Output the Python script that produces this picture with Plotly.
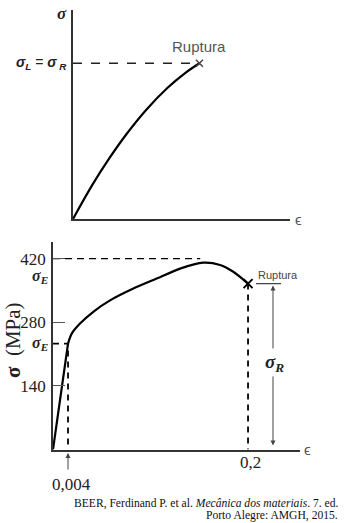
import plotly.graph_objects as go

# ---------------- data ----------------
# Top schematic (brittle material), arbitrary units
top_strain = [0.0, 0.09, 0.17, 0.25, 0.34, 0.44, 0.52, 0.588]
top_stress = [0.0, 0.163, 0.292, 0.408, 0.522, 0.628, 0.697, 0.745]
top_labels = {"y": "σ", "x": "ϵ", "rupt": "Ruptura"}

# Bottom diagram (ductile material); strain in drawing units of the schematic axis
bot_strain = [0.0, 0.009, 0.0154, 0.0192, 0.0277, 0.0413, 0.0585, 0.0824,
              0.1064, 0.1303, 0.1542, 0.1713, 0.1849, 0.2]
bot_stress = [0, 140, 233, 255, 277, 303, 328, 354, 376, 398, 411, 406, 391, 365]
yield_idx = 2           # index of yield point (σE)
y_tick_vals = [140, 280, 420]
y_tick_text = ["140", "280", "420"]
x_tick_text = ["0,004", "0,2"]
sigmaR_x = 0.2256        # position of the σR dimension line
citation_lines = ["BEER, Ferdinand P. et al. <i>Mecânica dos materiais</i>. 7. ed.",
                  "Porto Alegre: AMGH, 2015."]

SERIF = "Liberation Serif"
SANS = "Liberation Sans"
W, H = 347, 523

fig = go.Figure()

# ---------------- top panel ----------------
peak_top = top_stress[-1]
fig.add_trace(go.Scatter(x=[0, top_strain[-1]], y=[peak_top, peak_top], mode="lines",
                         line=dict(color="#222", width=1.5, dash="dash"),
                         xaxis="x", yaxis="y", hoverinfo="skip"))
fig.add_trace(go.Scatter(x=top_strain, y=top_stress, mode="lines",
                         line=dict(color="black", width=2.2, shape="spline", smoothing=1.0),
                         xaxis="x", yaxis="y"))
fig.add_trace(go.Scatter(x=[top_strain[-1]], y=[top_stress[-1]], mode="markers",
                         marker=dict(symbol="x-thin", size=7, line=dict(width=1.5, color="#444")),
                         xaxis="x", yaxis="y"))

# ---------------- bottom panel ----------------
xy, sy = bot_strain[yield_idx], bot_stress[yield_idx]
xr, sr = bot_strain[-1], bot_stress[-1]
dash_style = dict(color="black", width=1.8, dash="6px,5px")
# 420 dashed line
fig.add_trace(go.Scatter(x=[0, 0.151], y=[y_tick_vals[2], y_tick_vals[2]], mode="lines",
                         line=dict(color="black", width=1.3, dash="7px,5px"),
                         xaxis="x2", yaxis="y2"))
# yield dashed lines
fig.add_trace(go.Scatter(x=[0, xy, xy], y=[sy, sy, 0], mode="lines",
                         line=dash_style, xaxis="x2", yaxis="y2"))
# rupture vertical dashed
fig.add_trace(go.Scatter(x=[xr, xr], y=[sr, 0], mode="lines",
                         line=dash_style, xaxis="x2", yaxis="y2"))
# elastic part
fig.add_trace(go.Scatter(x=bot_strain[:yield_idx + 1], y=bot_stress[:yield_idx + 1],
                         mode="lines", line=dict(color="black", width=2.2),
                         xaxis="x2", yaxis="y2"))
# plastic part
fig.add_trace(go.Scatter(x=bot_strain[yield_idx:], y=bot_stress[yield_idx:],
                         mode="lines", line=dict(color="black", width=2.2, shape="spline", smoothing=0.8),
                         xaxis="x2", yaxis="y2"))
# rupture marker
fig.add_trace(go.Scatter(x=[xr], y=[sr], mode="markers",
                         marker=dict(symbol="x-thin", size=9, line=dict(width=2, color="black")),
                         xaxis="x2", yaxis="y2"))
# rupture reference line
fig.add_trace(go.Scatter(x=[0.2082, 0.2338], y=[sr, sr], mode="lines",
                         line=dict(color="#444", width=1.2), xaxis="x2", yaxis="y2"))

axis_common = dict(showgrid=False, zeroline=False, showline=True,
                   linecolor="#333", linewidth=1.8, automargin=False, fixedrange=True)

fig.update_layout(
    width=W, height=H,
    margin=dict(l=0, r=0, t=0, b=0),
    paper_bgcolor="white", plot_bgcolor="white",
    showlegend=False,
    xaxis=dict(domain=[73 / W, 290 / W], range=[0, 217 / 215], anchor="y",
               showticklabels=False, ticks="", **axis_common),
    yaxis=dict(domain=[1 - 219 / H, 1 - 10 / H], range=[0, 1], anchor="x",
               showticklabels=False, ticks="", **axis_common),
    xaxis2=dict(domain=[53 / W, 300 / W], range=[0, 0.2533], anchor="y2",
                showticklabels=False, ticks="", **axis_common),
    yaxis2=dict(domain=[1 - 449.5 / H, 1 - 242 / H], range=[0, 456.5], anchor="x2",
                tickvals=y_tick_vals, ticktext=y_tick_text, ticks="inside", ticklen=12,
                tickcolor="#555", tickwidth=1, ticklabelstandoff=2,
                tickfont=dict(family=SERIF, size=17, color="#222"), **axis_common),
)

ann = []
# top panel texts
ann.append(dict(xref="x", yref="y", x=0, y=1, text="<b><i>" + top_labels["y"] + "</i></b>",
                xanchor="right", yanchor="middle", xshift=-4, yshift=-3,
                font=dict(family=SERIF, size=17, color="#222"), showarrow=False))
ann.append(dict(xref="x", yref="y", x=0, y=peak_top,
                text="<b><i>σ</i></b><sub><b><i>L</i></b></sub> = <b><i>σ</i></b><sub><b><i> R</i></b></sub>",
                xanchor="right", yanchor="middle", xshift=-4,
                font=dict(family=SANS, size=14, color="#222"), showarrow=False))
ann.append(dict(xref="x", yref="y", x=top_strain[-1], y=peak_top, text=top_labels["rupt"],
                xanchor="center", yanchor="bottom", yshift=6,
                font=dict(family=SANS, size=15, color="#555"), showarrow=False))
ann.append(dict(xref="x", yref="y", x=217 / 215, y=0, text=top_labels["x"],
                xanchor="left", yanchor="middle", xshift=3,
                font=dict(family=SANS, size=15, color="#555"), showarrow=False))

# bottom panel texts
ann.append(dict(xref="x2", yref="y2", x=0.2533, y=0, text="ϵ",
                xanchor="left", yanchor="middle", xshift=2,
                font=dict(family=SANS, size=15, color="#555"), showarrow=False))
ann.append(dict(xref="x2", yref="y2", x=0, y=387,
                text="<b><i>σ</i></b><sub><b><i>E</i></b></sub>",
                xanchor="right", yanchor="middle", xshift=-3, yshift=-3,
                font=dict(family=SERIF, size=16, color="#222"), showarrow=False))
ann.append(dict(xref="x2", yref="y2", x=0, y=sy,
                text="<b><i>σ</i></b><sub><b><i>E</i></b></sub>",
                xanchor="right", yanchor="middle", xshift=-3,
                font=dict(family=SERIF, size=16, color="#222"), showarrow=False))
ann.append(dict(xref="paper", yref="paper", x=13 / W, y=1 - 340 / H,
                text="<b>σ</b>  (MPa)", textangle=-90,
                xanchor="center", yanchor="middle",
                font=dict(family=SERIF, size=21, color="#222"), showarrow=False))
# x labels
ann.append(dict(xref="x2", yref="y2", x=xy, y=0, text=x_tick_text[0],
                xanchor="center", yanchor="middle", yshift=-35, xshift=3,
                font=dict(family=SERIF, size=17, color="#222"), showarrow=False))
ann.append(dict(xref="x2", yref="y2", x=xr, y=0, text=x_tick_text[1],
                xanchor="center", yanchor="middle", yshift=-13, xshift=2,
                font=dict(family=SERIF, size=17, color="#222"), showarrow=False))
# arrow under 0,004 (below the axis, so anchored in paper y)
ann.append(dict(xref="x2", yref="paper", x=xy, y=1 - 453 / H, ax=0, ay=18,
                text="", showarrow=True, arrowhead=2, arrowsize=1, arrowwidth=1,
                arrowcolor="#444"))
# Ruptura label bottom
ann.append(dict(xref="x2", yref="y2", x=0.2082, y=sr, text="Ruptura",
                xanchor="left", yanchor="bottom", yshift=1,
                font=dict(family=SANS, size=11, color="#444"), showarrow=False))
# σR dimension arrows
ann.append(dict(xref="x2", yref="y2", x=sigmaR_x, y=sr - 4, axref="x2", ayref="y2",
                ax=sigmaR_x, ay=219, text="", showarrow=True, arrowhead=2, arrowsize=1,
                arrowwidth=1, arrowcolor="#444"))
ann.append(dict(xref="x2", yref="y2", x=sigmaR_x, y=9, axref="x2", ayref="y2",
                ax=sigmaR_x, ay=164, text="", showarrow=True, arrowhead=2, arrowsize=1,
                arrowwidth=1, arrowcolor="#444"))
ann.append(dict(xref="x2", yref="y2", x=sigmaR_x, y=191,
                text="<b><i>σ</i></b><sub><b><i>R</i></b></sub>",
                xanchor="center", yanchor="middle", xshift=2,
                font=dict(family=SERIF, size=19, color="#222"), showarrow=False))
# citation (two lines)
for i, line in enumerate(citation_lines):
    ann.append(dict(xref="paper", yref="paper", x=340 / W, y=1 - (503 + 12 * i) / H,
                    text=line, xanchor="right", yanchor="middle", align="right",
                    font=dict(family=SERIF, size=11.6, color="#111"), showarrow=False))

fig.update_layout(annotations=ann)
fig.write_html("out.html", config={"displayModeBar": False})
